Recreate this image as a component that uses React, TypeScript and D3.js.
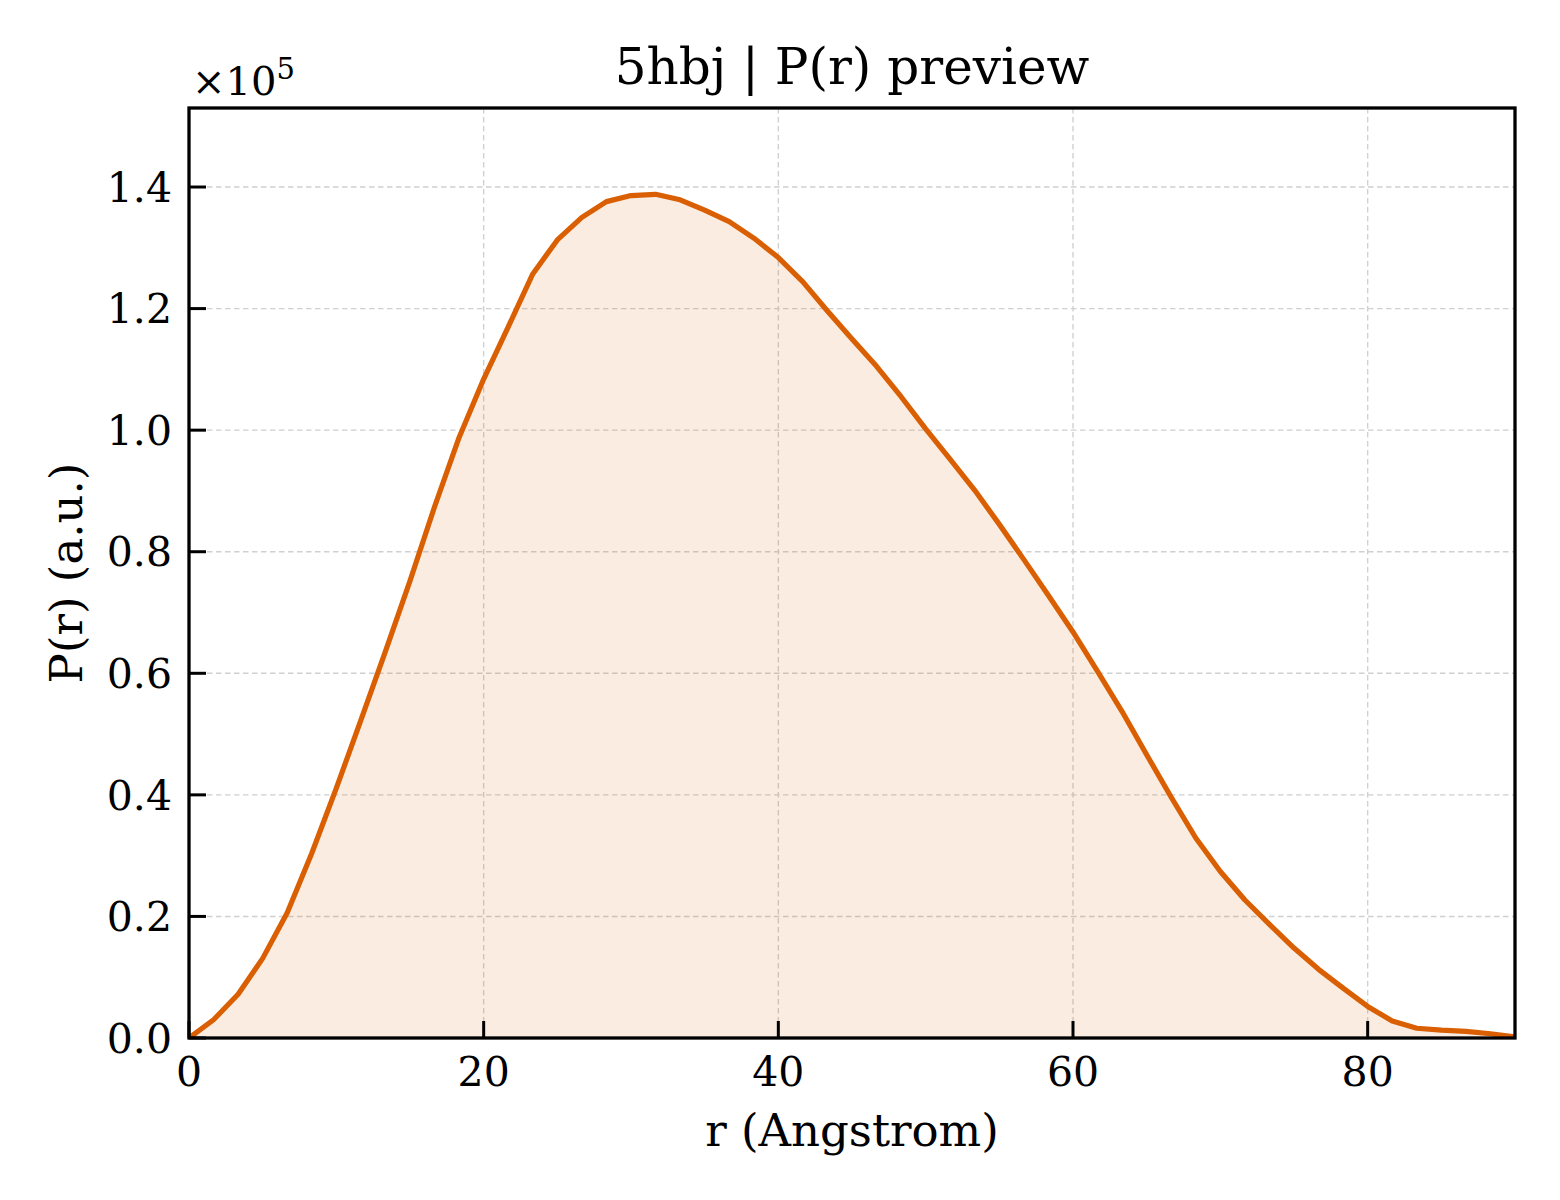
import * as d3 from "d3";

const W = 1560;
const H = 1200;
const M = { left: 189, right: 1515, top: 108, bottom: 1038 };

const TITLE = "5hbj | P(r) preview";
const X_LABEL = "r (Angstrom)";
const Y_LABEL = "P(r) (a.u.)";

// r grid (Angstrom)
const R = [
  0, 1.667, 3.333, 5, 6.667, 8.333, 10, 11.667, 13.333, 15, 16.667, 18.333, 20, 21.667,
  23.333, 25, 26.667, 28.333, 30, 31.667, 33.333, 35, 36.667, 38.333, 40, 41.667, 43.333,
  45, 46.667, 48.333, 50, 51.667, 53.333, 55, 56.667, 58.333, 60, 61.667, 63.333, 65,
  66.667, 68.333, 70, 71.667, 73.333, 75, 76.667, 78.333, 80, 81.667, 83.333, 85, 86.667,
  88.333, 90,
];

// P(r), arbitrary units
const PR = [
  0, 3000, 7200, 13100, 20600, 30400, 41100, 52300, 63600, 75200, 87400, 98800, 108400,
  117000, 125700, 131300, 135000, 137600, 138600, 138800, 137900, 136200, 134300, 131600,
  128400, 124400, 119600, 115000, 110500, 105500, 100200, 95200, 90100, 84500, 78700,
  72800, 66800, 60300, 53700, 46600, 39600, 32900, 27400, 22700, 18700, 14800, 11300,
  8200, 5200, 2800, 1600, 1300, 1100, 700, 200,
];

const X_TICKS = [0, 20, 40, 60, 80];
const Y_TICKS = [0, 20000, 40000, 60000, 80000, 100000, 120000, 140000];

const LINE = "#d95f02";
const FONT = "'DejaVu Serif', serif";

export default function App() {
  const x = d3.scaleLinear().domain([0, 90]).range([M.left, M.right]);
  const y = d3.scaleLinear().domain([0, 153000]).range([M.bottom, M.top]);

  const pts: [number, number][] = R.map((r, i) => [r, PR[i]]);
  const line = d3.line<[number, number]>().x((d) => x(d[0])).y((d) => y(d[1]));
  const area = d3
    .area<[number, number]>()
    .x((d) => x(d[0]))
    .y0(y(0))
    .y1((d) => y(d[1]));

  const TICK = 17;

  return (
    <div style={{ position: "absolute", left: 0, top: 0 }}>
      <svg width={W} height={H} style={{ display: "block", background: "#fff" }} fontFamily={FONT}>
        <defs>
          <clipPath id="plot">
            <rect x={M.left} y={M.top} width={M.right - M.left} height={M.bottom - M.top} />
          </clipPath>
        </defs>

        {/* grid */}
        {X_TICKS.map((t) => (
          <line key={`gx${t}`} x1={x(t)} x2={x(t)} y1={M.top} y2={M.bottom} stroke="#d0d0d0" strokeWidth={1.4} strokeDasharray="5.5 3.5" />
        ))}
        {Y_TICKS.map((t) => (
          <line key={`gy${t}`} x1={M.left} x2={M.right} y1={y(t)} y2={y(t)} stroke="#d0d0d0" strokeWidth={1.4} strokeDasharray="5.5 3.5" />
        ))}

        <g clipPath="url(#plot)">
          <path d={area(pts) ?? ""} fill={LINE} fillOpacity={0.12} />
          <path d={line(pts) ?? ""} fill="none" stroke={LINE} strokeWidth={5.2} strokeLinejoin="round" />
        </g>

        {/* inward ticks */}
        {X_TICKS.map((t) => (
          <g key={`tx${t}`}>
            <line x1={x(t)} x2={x(t)} y1={M.bottom} y2={M.bottom - TICK} stroke="#000" strokeWidth={3} />
            <text x={x(t)} y={M.bottom + 48} textAnchor="middle" fontSize={41}>{t}</text>
          </g>
        ))}
        {Y_TICKS.map((t) => (
          <g key={`ty${t}`}>
            <line x1={M.left} x2={M.left + TICK} y1={y(t)} y2={y(t)} stroke="#000" strokeWidth={3} />
            <text x={M.left - 17} y={y(t)} dy="0.36em" textAnchor="end" fontSize={41}>{(t / 1e5).toFixed(1)}</text>
          </g>
        ))}

        {/* frame */}
        <rect x={M.left} y={M.top} width={M.right - M.left} height={M.bottom - M.top} fill="none" stroke="#000" strokeWidth={3.3} />

        {/* offset text */}
        <text x={192} y={95} fontSize={40}>
          ×10<tspan dy={-16} fontSize={29}>5</tspan>
        </text>

        <text x={(M.left + M.right) / 2} y={84} textAnchor="middle" fontSize={50}>{TITLE}</text>
        <text x={(M.left + M.right) / 2} y={1146} textAnchor="middle" fontSize={45}>{X_LABEL}</text>
        <text transform={`translate(82, ${(M.top + M.bottom) / 2}) rotate(-90)`} textAnchor="middle" fontSize={45}>{Y_LABEL}</text>
      </svg>
    </div>
  );
}
